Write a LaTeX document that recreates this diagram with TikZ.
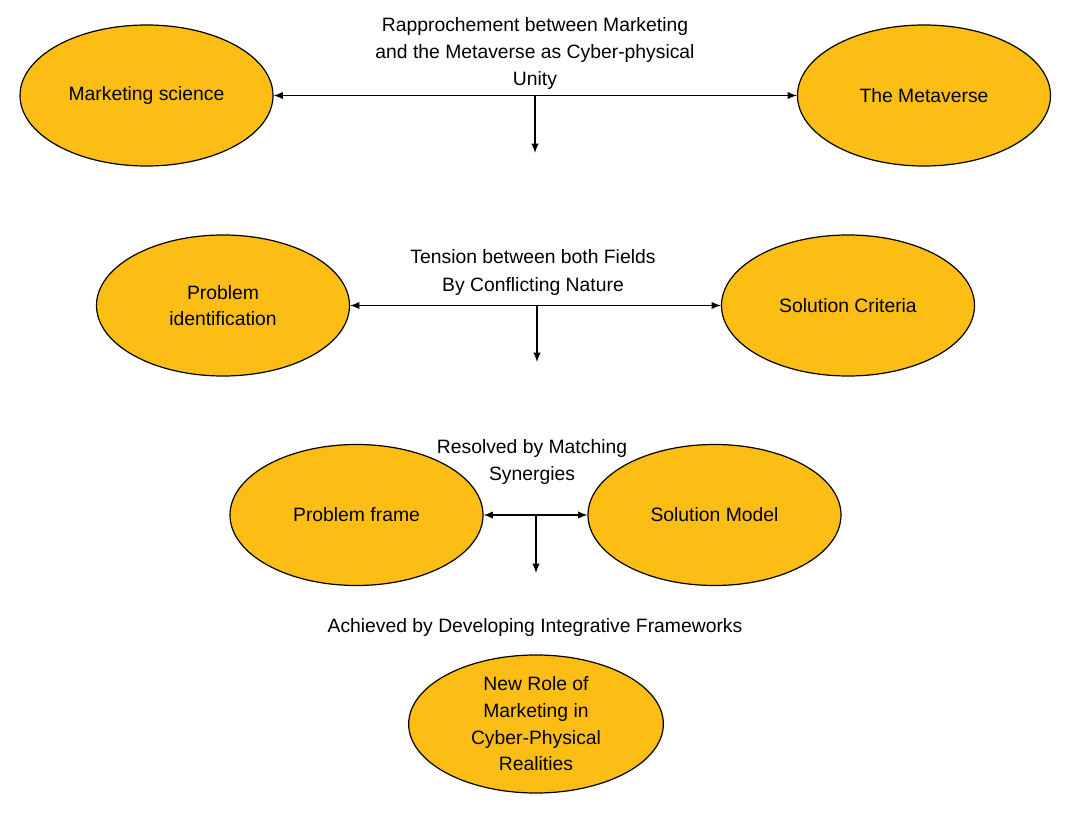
\documentclass[tikz,border=0pt]{standalone}
\usepackage{fontspec}
\setmainfont{Liberation Sans}
\usetikzlibrary{shapes.geometric,arrows.meta}
\definecolor{gold}{RGB}{252,190,20}
\begin{document}
\begin{tikzpicture}[x=0.75pt,y=-0.75pt,
  oval/.style={ellipse,draw=black,line width=0.9pt,fill=gold,minimum width=189.75pt,minimum height=105.75pt,inner sep=0pt,align=center,font=\fontsize{14.5pt}{20pt}\selectfont},
  lbl/.style={inner sep=0pt,align=center,font=\fontsize{14.5pt}{20.6pt}\selectfont},
  conn/.style={line width=0.9pt,-{Latex[length=7pt,width=5.5pt]}},
  dconn/.style={line width=0.9pt,{Latex[length=7pt,width=5.5pt]}-{Latex[length=7pt,width=5.5pt]}}]
\useasboundingbox (0,0) rectangle (1076,813);
% row 1
\node[oval] (ms) at (146.5,95.5) {\raisebox{-2pt}{Marketing science}};
\node[oval] (mv) at (924,95.5) {The Metaverse};
\node[lbl] (t1) at (535,53.5) {Rapprochement between Marketing\\and the Metaverse as Cyber-physical\\Unity};
\coordinate (d1) at (535,153);
\draw[dconn] (ms) -- (mv);
\draw[conn] (ms.east -| d1) -- (d1);
% row 2
\node[oval] (pi) at (223,305.5) {Problem\\identification};
\node[oval] (sc) at (848,305.5) {Solution Criteria};
\node[lbl] (t2) at (533,272.5) {Tension between both Fields\\By Conflicting Nature};
\coordinate (d2) at (537,362);
\draw[dconn] (pi) -- (sc);
\draw[conn] (pi.east -| d2) -- (d2);
% row 3
\node[oval] (pf) at (356.5,515) {Problem frame};
\node[oval] (sm) at (714.5,515) {Solution Model};
\node[lbl] (t3) at (532,462) {Resolved by Matching\\Synergies};
\coordinate (d3) at (536,573);
\draw[dconn] (pf) -- (sm);
\draw[conn] (pf.east -| d3) -- (d3);
% bottom
\node[lbl] (t4) at (535,628) {Achieved by Developing Integrative Frameworks};
\node[oval,minimum width=191pt,minimum height=103.5pt,font=\fontsize{14.5pt}{20pt}\selectfont] (nr) at (536,724) {New Role of\\Marketing in\\Cyber-Physical\\Realities};
\end{tikzpicture}
\end{document}
